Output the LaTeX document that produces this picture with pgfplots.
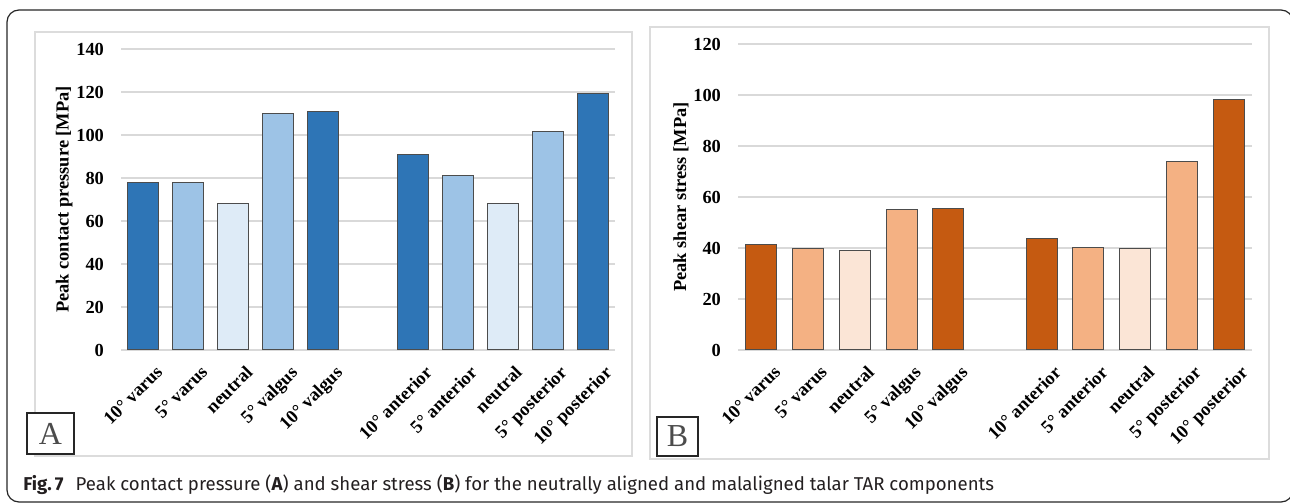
\documentclass[border=0pt]{standalone}
\usepackage{fontspec}
\setmainfont{Liberation Serif}
\newfontfamily\capfont{Fira Sans}
\usepackage{pgfplots}
\pgfplotsset{compat=1.18}
\definecolor{bdark}{HTML}{2E75B6}
\definecolor{bmid}{HTML}{9DC3E6}
\definecolor{blight}{HTML}{DEEBF7}
\definecolor{odark}{HTML}{C55A11}
\definecolor{omid}{HTML}{F4B183}
\definecolor{olight}{HTML}{FBE5D6}
\definecolor{gridc}{HTML}{D9D9D9}
\definecolor{panelc}{HTML}{DCDCDC}
\definecolor{capc}{HTML}{231F20}
\pgfplotsset{
  panel/.style={
    scale only axis,
    anchor=south west,
    ybar, bar width=15.5pt, bar shift=0pt,
    xmin=-0.5, xmax=10.5, ymin=0,
    enlargelimits=false,
    axis line style={draw=none},
    tick style={draw=none},
    major tick length=0pt,
    ymajorgrids,
    grid style={gridc, line width=0.8pt},
    /pgf/number format/assume math mode=true,
    ticklabel style={font=\bfseries\fontsize{9.2}{9.2}\selectfont},
    yticklabel style={xshift=-5pt},
    xtick={0,1,2,3,4,6,7,8,9,10},
    xticklabels={10° varus, 5° varus, neutral, 5° valgus, 10° valgus, 10° anterior, 5° anterior, neutral, 5° posterior, 10° posterior},
    xticklabel style={rotate=45, anchor=north east, inner sep=1pt, yshift=-8pt, xshift=0pt},
    every axis plot/.append style={draw=black!70, line width=0.5pt},
  }
}
\begin{document}
\begin{tikzpicture}
\useasboundingbox (0,0) rectangle (645pt,251.5pt);
\clip (0,0) rectangle (645pt,251.5pt);
% outer frame
\draw[black!85, line width=0.6pt, rounded corners=6pt] (3.5pt,0.5pt) rectangle (646.5pt,246.5pt);
% panel boxes
\draw[panelc, line width=0.7pt] (17.5pt,23.5pt) rectangle (316pt,235.5pt);
\draw[panelc, line width=0.7pt] (325pt,22pt) rectangle (634.5pt,238pt);

\begin{axis}[panel, at={(60.5pt,76.5pt)}, width=247pt, height=150.5pt,
  ymax=140, ytick={0,20,...,140},
  ylabel={Peak contact pressure [MPa]},
  every axis y label/.style={at={(axis description cs:-0.115,0.5)}, rotate=90, anchor=center, font=\bfseries\fontsize{9.2}{9.2}\selectfont}]
\addplot[fill=bdark] coordinates {(0,78.1) (4,111.0) (6,91.1) (10,119.3)};
\addplot[fill=bmid] coordinates {(1,78.1) (3,110.0) (7,81.2) (9,101.8)};
\addplot[fill=blight] coordinates {(2,68.1) (8,68.1)};
\end{axis}

\begin{axis}[panel, at={(369pt,76.5pt)}, width=257pt, height=153pt,
  ymax=120, ytick={0,20,...,120},
  ylabel={Peak shear stress [MPa]},
  every axis y label/.style={at={(axis description cs:-0.111,0.5)}, rotate=90, anchor=center, font=\bfseries\fontsize{9.2}{9.2}\selectfont}]
\addplot[fill=odark] coordinates {(0,41.5) (4,55.6) (6,43.7) (10,98.4)};
\addplot[fill=omid] coordinates {(1,39.8) (3,55.2) (7,40.2) (9,73.8)};
\addplot[fill=olight] coordinates {(2,39.1) (8,39.8)};
\end{axis}

% panel letters
\draw[black!85, line width=0.8pt, fill=white] (13.5pt,24.5pt) rectangle (37pt,45pt);
\node[black!70, font=\fontsize{16}{16}\selectfont, inner sep=0pt] at (25.25pt,34.5pt) {A};
\draw[black!85, line width=0.8pt, fill=white] (328.5pt,23.5pt) rectangle (349pt,43pt);
\node[black!70, font=\fontsize{16}{16}\selectfont, inner sep=0pt] at (338.75pt,33.25pt) {B};

% caption
\node[anchor=base west, inner sep=0pt, text=capc, font=\capfont\fontsize{9.3}{10}\selectfont] at (11.5pt,6.2pt)
  {\textbf{Fig.\,7}\hspace{6pt}Peak contact pressure (\textbf{A}) and shear stress (\textbf{B}) for the neutrally aligned and malaligned talar TAR components};
\end{tikzpicture}
\end{document}
